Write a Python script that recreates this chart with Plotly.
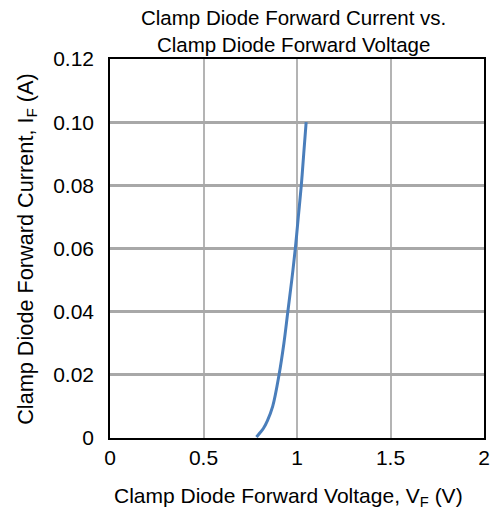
import plotly.graph_objects as go

vf = [0.783, 0.79, 0.80, 0.82, 0.842, 0.87, 0.904, 0.93, 0.951, 0.972, 0.991, 1.007, 1.023, 1.036, 1.049]
i_f = [0.0003, 0.0008, 0.0015, 0.003, 0.0055, 0.010, 0.020, 0.030, 0.040, 0.050, 0.060, 0.070, 0.080, 0.090, 0.100]

x_ticks = [0, 0.5, 1, 1.5, 2]
x_labels = ["0", "0.5", "1", "1.5", "2"]
y_ticks = [0, 0.02, 0.04, 0.06, 0.08, 0.10, 0.12]
y_labels = ["0", "0.02", "0.04", "0.06", "0.08", "0.10", "0.12"]

font = "Liberation Sans, Arial, sans-serif"

fig = go.Figure()
fig.add_trace(go.Scatter(x=vf, y=i_f, mode="lines",
                         line=dict(color="#4a7ebb", width=3, shape="spline"),
                         showlegend=False))

fig.update_layout(
    width=500, height=516,
    margin=dict(l=110, r=10, t=59, b=78),
    paper_bgcolor="white", plot_bgcolor="white",
    font=dict(family=font, color="black"),
    annotations=[
        dict(text="Clamp Diode Forward Current vs.<br>Clamp Diode Forward Voltage",
             xref="paper", yref="paper", x=0.49, y=1.074, xanchor="center", yanchor="middle",
             showarrow=False, font=dict(size=20.5, color="black")),
        dict(text="Clamp Diode Forward Voltage, V<sub>F</sub> (V)",
             xref="paper", yref="paper", x=0.478, y=-0.156, xanchor="center", yanchor="middle",
             showarrow=False, font=dict(size=21, color="black")),
        dict(text="Clamp Diode Forward Current, I<sub>F</sub> (A)", textangle=-90,
             xref="paper", yref="paper", x=-0.2237, y=0.50, xanchor="center", yanchor="middle",
             showarrow=False, font=dict(size=21.7, color="black")),
    ],
)
fig.update_xaxes(range=[0, 2], tickvals=x_ticks, ticktext=x_labels,
                 showgrid=True, gridcolor="#b4b4b4", gridwidth=1.5,
                 showline=True, linecolor="black", linewidth=1.5, mirror=True,
                 ticks="", zeroline=False, tickfont=dict(size=21))
fig.update_yaxes(range=[0, 0.12], tickvals=y_ticks, ticktext=y_labels,
                 showgrid=True, gridcolor="#a8a8a8", gridwidth=2.5,
                 showline=True, linecolor="black", linewidth=1.5, mirror=True,
                 ticks="", zeroline=False, tickfont=dict(size=21),
                 ticklabelstandoff=10)

fig.write_html("out.html")
